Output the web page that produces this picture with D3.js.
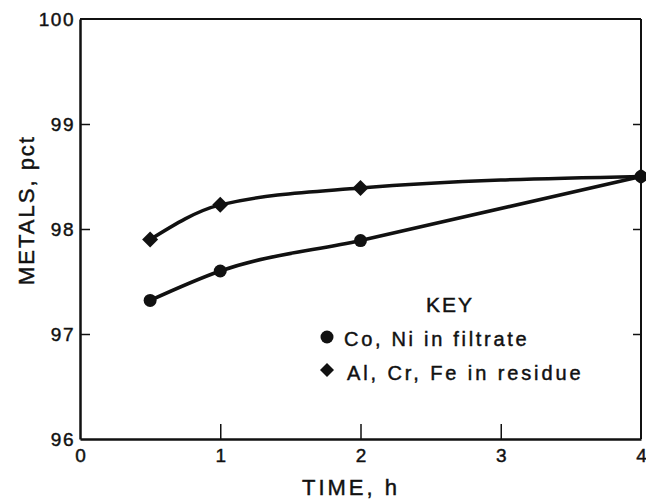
<!DOCTYPE html>
<html>
<head>
<meta charset="utf-8">
<script src="https://cdn.jsdelivr.net/npm/d3@7"></script>
<style>
  html, body { margin: 0; padding: 0; background: #fff; }
  svg { display: block; }
  text { font-family: "Liberation Sans", Arial, Helvetica, sans-serif; fill: #111; stroke: #111; stroke-width: 0.45px; }
</style>
</head>
<body>
<svg id="chart" width="646" height="500"></svg>
<script>
// ---- data ----
const time = [0.5, 1, 2, 4];
const filtrate = [97.32, 97.60, 97.89, 98.50];   // Co, Ni in filtrate (circles)
const residue  = [97.90, 98.23, 98.39, 98.50];   // Al, Cr, Fe in residue (diamonds)
const xTicks = [0, 1, 2, 3, 4];
const yTicks = [96, 97, 98, 99, 100];
const legendLabels = ["Co, Ni in filtrate", "Al, Cr, Fe in residue"];

// ---- layout ----
const svg = d3.select("#chart");
const pL = 80, pR = 641, pT = 19, pB = 439;
const x = d3.scaleLinear().domain([0, 4]).range([pL, pR]);
const y = d3.scaleLinear().domain([96, 100]).range([pB, pT]);
const ink = "#111";

// frame
svg.append("line").attr("x1", pL).attr("x2", pR).attr("y1", pT).attr("y2", pT)
  .attr("stroke", ink).attr("stroke-width", 2);
svg.append("line").attr("x1", pR).attr("x2", pR).attr("y1", pT).attr("y2", pB)
  .attr("stroke", ink).attr("stroke-width", 2);

// bottom axis, ticks inward
const xAxis = d3.axisBottom(x).tickValues(xTicks).tickSizeInner(-15).tickSizeOuter(0)
  .tickFormat(d3.format("d"));
const gx = svg.append("g").attr("transform", `translate(0,${pB})`).call(xAxis);
gx.select(".domain").attr("stroke", ink).attr("stroke-width", 2.5);
gx.selectAll(".tick line").attr("stroke", ink).attr("stroke-width", 1.5);
gx.selectAll(".tick").filter(d => d === 0 || d === 4).select("line").remove();
gx.selectAll(".tick text").attr("y", 10).attr("dy", "0.71em")
  .style("font-size", "19px").attr("fill", ink);

// left axis, ticks inward
const yAxis = d3.axisLeft(y).tickValues(yTicks).tickSizeInner(-10).tickSizeOuter(0)
  .tickFormat(d3.format("d"));
const gy = svg.append("g").attr("transform", `translate(${pL},0)`).call(yAxis);
gy.select(".domain").attr("stroke", ink).attr("stroke-width", 2.5);
gy.selectAll(".tick line").attr("stroke", ink).attr("stroke-width", 1.5);
gy.selectAll(".tick").filter(d => d === 96 || d === 100).select("line").remove();
gy.selectAll(".tick text").attr("x", -5).attr("dy", "0.36em")
  .style("font-size", "19px").style("letter-spacing", "1.5px").attr("fill", ink);

// right side ticks, inward
const yAxisR = d3.axisRight(y).tickValues([97, 98, 99]).tickSizeInner(-8).tickSizeOuter(0)
  .tickFormat("");
const gr = svg.append("g").attr("transform", `translate(${pR},0)`).call(yAxisR);
gr.select(".domain").remove();
gr.selectAll(".tick line").attr("stroke", ink).attr("stroke-width", 1.5);

// axis titles
svg.append("text").attr("x", 351).attr("y", 495).attr("text-anchor", "middle")
  .style("font-size", "22px").style("letter-spacing", "3px").text("TIME, h");
svg.append("text").attr("transform", "translate(34,210) rotate(-90)").attr("text-anchor", "middle")
  .style("font-size", "22px").style("letter-spacing", "2px").text("METALS, pct");

// lines
const line = d3.line().x(d => x(d[0])).y(d => y(d[1])).curve(d3.curveMonotoneX);
const series = [
  { vals: filtrate, shape: "circle" },
  { vals: residue, shape: "diamond" }
];
series.forEach(s => {
  const pts = time.map((t, i) => [t, s.vals[i]]);
  svg.append("path").datum(pts).attr("d", line).attr("fill", "none")
    .attr("stroke", ink).attr("stroke-width", 3.5);
  if (s.shape === "circle") {
    svg.selectAll(null).data(pts).enter().append("circle")
      .attr("cx", d => x(d[0])).attr("cy", d => y(d[1])).attr("r", 6.5).attr("fill", ink);
  } else {
    svg.selectAll(null).data(pts).enter().append("path")
      .attr("d", d => { const cx = x(d[0]), cy = y(d[1]), r = 8;
        return `M${cx},${cy - r}L${cx + r},${cy}L${cx},${cy + r}L${cx - r},${cy}Z`; })
      .attr("fill", ink);
  }
});

// legend
svg.append("text").attr("x", 450).attr("y", 312).attr("text-anchor", "middle")
  .style("font-size", "21px").style("letter-spacing", "2px").text("KEY");
svg.append("circle").attr("cx", 327).attr("cy", 337).attr("r", 6.5).attr("fill", ink);
svg.append("text").attr("x", 344).attr("y", 346).style("font-size", "20px")
  .style("letter-spacing", "2.7px").text(legendLabels[0]);
svg.append("path").attr("d", "M327,363L334,370L327,377L320,370Z").attr("fill", ink);
svg.append("text").attr("x", 347).attr("y", 380).style("font-size", "20px")
  .style("letter-spacing", "2.9px").text(legendLabels[1]);
</script>
</body>
</html>
